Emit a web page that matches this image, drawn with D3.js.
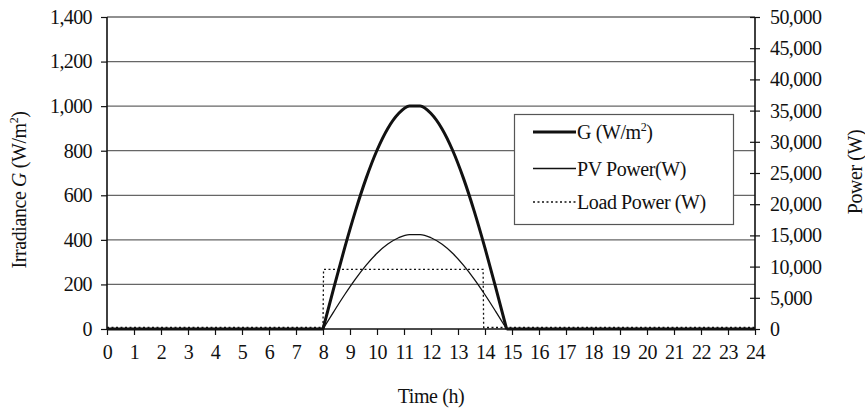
<!DOCTYPE html>
<html>
<head>
<meta charset="utf-8">
<script src="https://cdn.jsdelivr.net/npm/d3@7"></script>
<style>
  body { margin: 0; background: #fff; }
  text { font-family: "Liberation Serif", "DejaVu Serif", serif; fill: #111; }
</style>
</head>
<body>
<div id="chart"></div>
<script>
// daytime samples (h)
const hours = [8.0, 8.4, 8.8, 9.2, 9.6, 10.0, 10.4, 10.8, 11.2, 11.6, 12.0, 12.4, 12.8, 13.2, 13.6, 14.0, 14.4, 14.8];
const irradiance = [0, 185, 363, 529, 677, 802, 900, 967, 1001, 1001, 967, 900, 802, 677, 529, 363, 185, 0];
const pvPower = [0, 2790, 5490, 8000, 10240, 12130, 13610, 14620, 15130, 15130, 14620, 13610, 12130, 10240, 8000, 5490, 2790, 0];

const loadHours = [0, 8.0, 8.02, 13.93, 13.95, 24];
const loadPower = [0, 0, 9300, 9300, 0, 0];

const leftTicks = [0, 200, 400, 600, 800, 1000, 1200, 1400];
const rightTicks = [0, 5000, 10000, 15000, 20000, 25000, 30000, 35000, 40000, 45000, 50000];
const hourTicks = d3.range(0, 25);

const legendNames = ["G (W/m", "PV Power(W)", "Load Power (W)"];

const width = 865, height = 410;
const margin = { top: 17, right: 110, bottom: 81, left: 107 };

const svg = d3.select("#chart").append("svg")
    .attr("width", width)
    .attr("height", height);

const x = d3.scaleLinear().domain([0, 24]).range([margin.left, width - margin.right]);
const yG = d3.scaleLinear().domain([0, 1400]).range([height - margin.bottom, margin.top]);
const yP = d3.scaleLinear().domain([0, 50000]).range([height - margin.bottom, margin.top]);

// gridlines
svg.append("g")
    .selectAll("line")
    .data(leftTicks.slice(1))
    .enter().append("line")
    .attr("x1", x(0)).attr("x2", x(24))
    .attr("y1", d => yG(d)).attr("y2", d => yG(d))
    .attr("stroke", d => d === 1400 ? "#222" : "#666")
    .attr("stroke-width", 1.2);

// left axis
const fmt = d3.format(",");
const axL = svg.append("g")
    .attr("transform", "translate(" + x(0) + ",0)")
    .call(d3.axisLeft(yG).tickValues(leftTicks).tickFormat(fmt).tickSize(6).tickPadding(9));

// right axis
const axR = svg.append("g")
    .attr("transform", "translate(" + x(24) + ",0)")
    .call(d3.axisRight(yP).tickValues(rightTicks).tickFormat(fmt).tickSize(5).tickPadding(10));
axR.selectAll(".tick line").attr("x1", -5);

// bottom axis
const axB = svg.append("g")
    .attr("transform", "translate(0," + yG(0) + ")")
    .call(d3.axisBottom(x).tickValues(hourTicks).tickSize(6).tickPadding(10));

[axL, axR, axB].forEach(a => {
    a.select(".domain").attr("stroke", "#111").attr("stroke-width", 1.6);
    a.selectAll(".tick line").attr("stroke", "#111").attr("stroke-width", 1.2);
    a.selectAll("text")
        .style("font-family", "Liberation Serif")
        .style("font-size", "20px")
        .style("letter-spacing", "-0.6px")
        .attr("fill", "#111");
});
axL.select(".domain").attr("d", "M0," + yG(0) + "V" + yG(1400));
axR.select(".domain").attr("d", "M0," + yP(0) + "V" + yP(50000));
axB.select(".domain").attr("d", "M" + x(0) + ",0H" + x(24));

// series
const dayG = hours.map((h, i) => [h, irradiance[i]]);
const dayP = hours.map((h, i) => [h, pvPower[i]]);
const first = hours[0], last = hours[hours.length - 1];

const smooth = d3.line().curve(d3.curveMonotoneX);
const straight = d3.line();

function drawSeries(pts, y, w) {
    const g = svg.append("g").attr("fill", "none").attr("stroke", "#111").attr("stroke-width", w);
    g.append("path").attr("d", straight([[x(0), y(0)], [x(first), y(0)]]));
    g.append("path").attr("d", straight([[x(last), y(0)], [x(24), y(0)]]));
    g.append("path").attr("d", smooth(pts.map(p => [x(p[0]), y(p[1])])));
}

drawSeries(dayP, yP, 1.3);

svg.append("path")
    .attr("fill", "none")
    .attr("stroke", "#111")
    .attr("stroke-width", 1.3)
    .attr("stroke-dasharray", "2,2.5")
    .attr("d", straight(loadHours.map((h, i) => [x(h), yP(loadPower[i]) - 1.5])));

drawSeries(dayG, yG, 3);

// legend
const lg = svg.append("g");
lg.append("rect")
    .attr("x", 514.5).attr("y", 114.5)
    .attr("width", 219).attr("height", 110)
    .attr("fill", "#fff").attr("stroke", "#555").attr("stroke-width", 1.2);

const rowsY = [132, 168.5, 202];
const styles = [
    { w: 3, dash: null },
    { w: 1.3, dash: null },
    { w: 1.3, dash: "2,2.5" }
];
legendNames.forEach((name, i) => {
    lg.append("line")
        .attr("x1", 533).attr("x2", 576)
        .attr("y1", rowsY[i]).attr("y2", rowsY[i])
        .attr("stroke", "#111")
        .attr("stroke-width", styles[i].w)
        .attr("stroke-dasharray", styles[i].dash);
    const t = lg.append("text")
        .attr("x", 577).attr("y", rowsY[i] + 7)
        .style("font-size", "20px")
        .style("letter-spacing", "-0.4px")
        .text(name);
    if (i === 0) {
        t.append("tspan").attr("dy", -8).style("font-size", "12px").text("2");
        t.append("tspan").attr("dy", 8).text(")");
    }
});

// axis titles
svg.append("text")
    .attr("x", x(12))
    .attr("y", 403)
    .attr("text-anchor", "middle")
    .style("font-size", "20px")
    .style("letter-spacing", "-0.4px")
    .text("Time (h)");

const tl = svg.append("text")
    .attr("transform", "translate(26,190) rotate(-90)")
    .attr("text-anchor", "middle")
    .style("font-size", "20px")
    .style("letter-spacing", "-0.4px");
tl.append("tspan").text("Irradiance ");
tl.append("tspan").style("font-style", "italic").text("G");
tl.append("tspan").text(" (W/m");
tl.append("tspan").attr("dy", -8).style("font-size", "12px").text("2");
tl.append("tspan").attr("dy", 8).text(")");

svg.append("text")
    .attr("transform", "translate(862,172) rotate(-90)")
    .attr("text-anchor", "middle")
    .style("font-size", "20px")
    .style("letter-spacing", "-0.4px")
    .text("Power (W)");
</script>
</body>
</html>
